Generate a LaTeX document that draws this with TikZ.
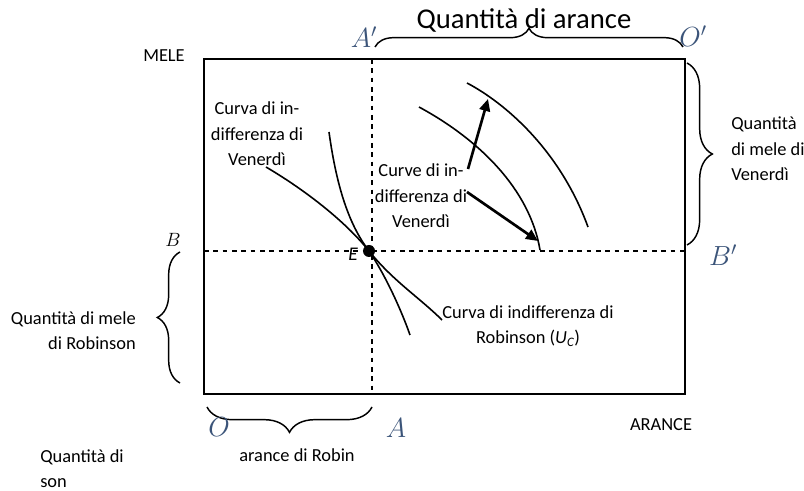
\documentclass[tikz,border=0pt]{standalone}
\usepackage{fontspec}
\setmainfont{Carlito}
\usetikzlibrary{arrows.meta,decorations.pathreplacing}
\definecolor{slate}{HTML}{3B5479}
\tikzset{
  txt/.style={
    inner sep=0pt, align=center,
    font=\fontsize{13.8}{19}\selectfont
  },
  letter/.style={
    inner sep=0pt, text=slate,
    font=\fontsize{20}{24}\selectfont
  },
  frame/.style={draw, line width=1.5pt},
  guide/.style={line width=1.4pt, dash pattern=on 3.5pt off 3.5pt},
  curve/.style={line width=1.2pt},
  brc/.style={decorate, line width=1.1pt},
  arrow/.style={-{Triangle[length=9pt, width=8pt]}, line width=2pt}
}

\begin{document}
\begin{tikzpicture}[x=0.75pt, y=-0.75pt]
    \useasboundingbox (0,0) rectangle (804,491);
    % box and dashed guides
    \coordinate (O) at (204,394);
    \coordinate (Op) at (685,59);
    \draw[frame] (O) rectangle (Op);
    \coordinate (Atop) at (372,59);
    \coordinate (Abot) at (372,394);
    \coordinate (Bl) at (204,251);
    \coordinate (Br) at (685,251);
    \draw[guide] (Atop) -- (Abot);
    \draw[guide] (Bl) -- (Br);
    \node[circle, fill, inner sep=0pt, minimum size=9pt] (E) at (369,251) {};
    % indifference curves
    \draw[curve] (266,167) .. controls (305,190) and (345,221) .. (E.center)
      .. controls (393,281) and (420,298) .. (442,320);
    \draw[curve] (329,132) .. controls (337,190) and (350,226) .. (E.center)
      .. controls (386,276) and (402,312) .. (410,335);
    \draw[curve] (419,107) .. controls (480,140) and (530,190) .. (540,250);
    \draw[curve] (467,83) .. controls (505,103) and (560,150) .. (588,227);
    \coordinate (upS) at (468,169);
    \coordinate (upE) at (488,99);
    \coordinate (dnS) at (467,192);
    \coordinate (dnE) at (538,241);
    \draw[arrow] (upS) -- (upE);
    \draw[arrow] (dnS) -- (dnE);
    % braces
    \draw[brc, decoration={brace, amplitude=14pt}] (375,47) -- (683,47);
    \draw[brc, decoration={brace, amplitude=19pt}] (687,63) -- (687,245);
    \draw[brc, decoration={brace, amplitude=17pt}] (180,383) -- (180,252);
    \draw[brc, decoration={brace, amplitude=19pt}] (372,407) -- (207,407);
    % labels
    \node[txt] (mele) at (164,56) {MELE};
    \node[txt, font=\fontsize{21.5}{26}\selectfont] (qarance) at (524,20) {Quantità di arance};
    \node[letter] (Ap) at (364,37) {$A'$};
    \node[letter] (Oprime) at (693,36) {$O'$};
    \node[letter, text=black, font=\fontsize{15}{18}\selectfont] (B) at (173,240) {$B$};
    \node[letter] (Bp) at (723,255) {$B'$};
    \node[letter] (Olab) at (219,427) {$O$};
    \node[letter] (Alab) at (396,428) {$A$};
    \node[txt, font=\fontsize{14.5}{18}\selectfont\itshape] (Elab) at (353,254) {E};
    \node[txt] (vcurve) at (257,134) {Curva di in-\\differenza di\\Venerdì};
    \node[txt] (vcurves) at (421,196) {Curve di in-\\differenza di\\Venerdì};
    \node[txt] (rcurve) at (528,326) {Curva di indifferenza di\\Robinson (\textit{U\textsubscript{C}})};
    \node[txt, align=left, anchor=west] (vmele) at (731,149) {Quantità\\di mele di\\Venerdì};
    \node[txt, align=right, anchor=east] (rmele) at (136,331) {Quantità di mele\\di Robinson};
    \node[txt] (arance) at (661,425) {ARANCE};
    \node[txt, align=left, anchor=west] (qson) at (40,469) {Quantità di\\son};
    \node[txt] (rarance) at (297,455) {arance di Robin};
\end{tikzpicture}
\end{document}
